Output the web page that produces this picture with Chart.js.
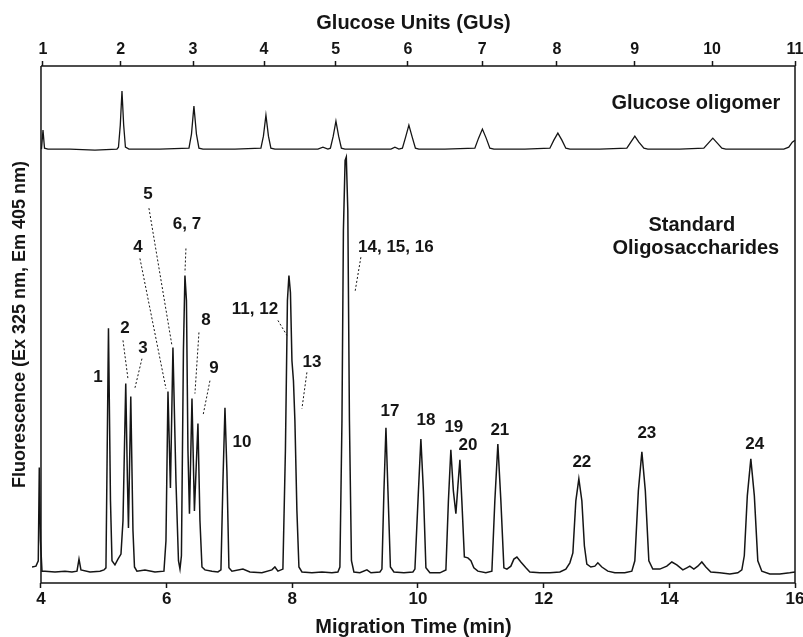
<!DOCTYPE html>
<html><head><meta charset="utf-8">
<script src="https://cdn.jsdelivr.net/npm/chart.js@4/dist/chart.umd.min.js"></script>
<style>html,body{margin:0;padding:0;background:#fff}#wrap{width:803px;height:637px}</style>
</head><body><div id="wrap"><canvas id="c" width="803" height="637"></canvas></div>
<script>
// ---- data ----
const timeTicks = [4, 6, 8, 10, 12, 14, 16];
const guLabels = ['1','2','3','4','5','6','7','8','9','10','11'];
const guTimes  = [4.03, 5.27, 6.42, 7.55, 8.69, 9.84, 11.02, 12.21, 13.45, 14.68, 16.0];

// Standard oligosaccharides trace: migration time (min) and fluorescence (relative units)
const oligoTime = [3.857,3.920,3.957,3.973,3.992,4.016,4.064,4.223,4.382,4.493,4.573,4.605,4.636,4.780,4.939,5.002,
 5.034,5.074,5.106,5.130,5.177,5.225,5.273,5.305,5.349,5.376,5.392,5.429,5.464,5.488,5.527,5.655,5.814,
 5.957,5.989,6.021,6.060,6.100,6.148,6.188,6.212,6.235,6.267,6.291,6.315,6.339,6.363,6.403,6.442,6.498,6.530,6.562,6.609,
 6.721,6.816,6.864,6.896,6.928,6.959,6.991,7.039,7.214,7.325,7.516,7.675,7.723,7.771,
 7.850,7.890,7.922,7.946,7.970,7.994,8.018,8.041,8.073,8.105,8.153,8.312,8.471,8.630,8.725,
 8.757,8.790,8.813,8.840,8.859,8.883,8.909,8.941,8.980,9.075,9.187,9.251,9.394,
 9.426,9.458,9.490,9.522,9.561,9.617,9.776,9.919,9.951,10.007,10.046,10.086,10.126,10.189,10.348,
 10.444,10.484,10.523,10.563,10.603,10.635,10.667,10.698,10.738,10.794,10.842,10.889,10.953,11.080,
 11.176,11.223,11.271,11.319,11.367,11.415,11.478,11.526,11.574,11.637,11.717,11.780,11.940,12.099,12.258,
 12.353,12.417,12.465,12.512,12.560,12.608,12.648,12.687,12.751,12.815,12.862,12.926,13.021,13.133,13.292,
 13.403,13.451,13.507,13.563,13.618,13.674,13.737,13.849,13.960,14.040,14.119,14.215,14.278,14.326,14.390,
 14.453,14.517,14.581,14.660,14.803,14.963,15.090,15.154,15.193,15.241,15.297,15.353,15.408,15.472,
 15.599,15.758,15.917,16.0];
const oligoSignal = [1.2,1.4,2.7,25.1,7.5,0.2,0.2,0,0.2,0,0.2,3.1,0.5,0,0.2,0.5,
 1.0,58.6,17.1,2.7,1.7,3.1,4.3,12.3,45.3,21.9,10.6,42.2,9.9,1.2,0.2,0.5,0,
 0.2,7.5,43.4,20.2,54.0,21.9,2.7,0.7,3.9,53.3,71.3,65.3,29.2,14.0,41.7,14.7,35.7,12.3,1.2,0.5,
 0.2,0,0.5,21.9,39.5,24.3,1.0,0.2,0.7,0,-0.2,0.5,1.2,0.2,
 0.7,29.2,65.3,71.3,67.2,50.8,46.0,36.4,14.7,1.2,0,-0.2,0,-0.2,0,
 1.2,36.4,82.2,99.0,99.8,87.0,36.4,2.7,0,-0.2,0.5,-0.2,0,
 0.7,19.5,34.7,19.5,1.2,0,-0.2,0,0.7,19.5,32.0,19.5,1.0,-0.2,-0.2,
 0.5,17.1,29.4,19.5,14.0,20.7,27.0,17.1,3.6,3.4,2.7,1.0,0.2,-0.2,
 0.2,17.1,30.8,17.1,1.0,0.7,1.4,3.1,3.6,2.4,1.0,0,-0.2,-0.2,0,
 0.7,2.2,4.6,17.1,22.4,17.1,6.3,1.9,1.2,1.4,2.2,1.2,0.2,-0.2,-0.2,
 0.2,2.7,19.5,28.9,19.5,2.7,0.7,0.7,1.4,2.4,1.7,0.5,1.0,1.4,0.7,
 1.4,2.4,1.2,0,-0.2,-0.5,-0.2,0.5,3.9,18.3,27.2,18.3,2.7,0.2,
 -0.5,-0.5,-0.2,0];

// Glucose oligomer ladder trace
const ladderTime = [4.008,4.032,4.056,4.111,4.461,4.859,5.209,5.233,5.262,5.289,5.316,5.344,5.400,5.893,
 6.355,6.395,6.434,6.474,6.514,6.578,7.087,7.500,7.540,7.580,7.620,7.659,7.723,8.121,8.407,8.487,8.566,
 8.606,8.651,8.694,8.737,8.781,8.837,9.235,9.569,9.633,9.696,9.752,9.803,9.855,9.908,9.959,10.014,10.428,
 10.905,10.964,11.025,11.085,11.144,11.208,11.701,12.099,12.162,12.226,12.290,12.353,12.417,12.894,
 13.324,13.387,13.451,13.515,13.595,13.658,14.167,14.549,14.621,14.692,14.764,14.836,14.899,15.440,
 15.822,15.901,15.957,16.0,16.045];
const ladderSignal = [0,32.8,1.7,0,0,-1.7,0,3.4,41.4,100,41.4,3.4,0,0,
 1.7,25.9,74.1,25.9,1.7,0,0,1.7,22.4,58.6,22.4,1.7,0,0,0,3.4,0,
 1.7,22.4,48.3,22.4,1.7,0,0,0,3.4,0,1.7,20.7,41.4,20.7,1.7,0,0,
 1.7,19.0,34.5,19.0,1.7,0,0,1.7,15.5,27.6,15.5,1.7,0,0,
 1.7,12.1,22.4,12.1,1.7,0,0,1.7,10.3,19.0,10.3,1.7,0,0,
 0,3.4,12.1,15.5,10.3];

// Peak annotations (anchor in time / fluorescence units)
const peakNames = ['1','2','3','4','5','6, 7','8','9','10','11, 12','13','14, 15, 16','17','18','19','20','21','22','23','24'];
const peakLabelTime = [4.907,5.336,5.623,5.543,5.702,6.323,6.625,6.753,7.198,7.405,8.312,9.648,9.553,10.126,10.571,10.794,11.303,12.608,13.642,15.360];
const peakLabelSignal = [46.7,58.6,53.7,78.1,90.8,83.6,60.5,48.9,31.1,63.1,50.4,78.1,38.6,36.4,34.7,30.4,34.0,26.3,33.3,30.6];

// Dotted leader lines (pairs, separated by gaps)
const leaderTime = [5.305,5.384,null, 5.607,5.496,null, 5.575,5.989,null, 5.718,6.084,null, 6.307,6.291,null,
 6.514,6.450,null, 6.689,6.578,null, 7.771,7.914,null, 8.232,8.153,null, 9.091,8.996];
const leaderSignal = [55.7,46.5,null, 51.3,44.3,null, 75.4,44.1,null, 87.5,54.5,null, 77.8,72.0,null,
 57.6,42.9,null, 46.0,37.6,null, 60.5,56.9,null, 48.0,39.3,null, 75.7,67.2];

const traceNames = ['Glucose oligomer', 'Standard', 'Oligosaccharides'];

// ---- chart ----
const FONT = "'Liberation Sans', Arial, Helvetica, sans-serif";
const INK = '#151515';
function pairs(xs, ys){ return xs.map((x,i)=>({x: x===null?NaN:x, y: ys[i]===null?NaN:ys[i]})); }

const framePlugin = {
  id: 'frame',
  beforeDatasetsDraw(chart){
    const {ctx, chartArea:a, scales:{x}} = chart;
    const x0 = x.getPixelForValue(4), x1 = x.getPixelForValue(16);
    ctx.save();
    ctx.strokeStyle = INK; ctx.lineWidth = 1.5;
    ctx.beginPath();
    ctx.moveTo(x0, a.top); ctx.lineTo(x1, a.top);
    ctx.moveTo(x0, a.bottom); ctx.lineTo(x1, a.bottom);
    ctx.moveTo(x0, a.top); ctx.lineTo(x0, a.bottom);
    ctx.moveTo(x1, a.top); ctx.lineTo(x1, a.bottom);
    ctx.stroke();
    ctx.restore();
  }
};

const labelPlugin = {
  id: 'peakLabels',
  afterDatasetsDraw(chart){
    const {ctx, scales:{x, yB, yT}} = chart;
    ctx.save();
    ctx.fillStyle = INK; ctx.textAlign = 'center'; ctx.textBaseline = 'middle';
    ctx.font = 'bold 17px ' + FONT;
    peakNames.forEach((n,i)=>ctx.fillText(n, x.getPixelForValue(peakLabelTime[i]), yB.getPixelForValue(peakLabelSignal[i])));
    ctx.font = 'bold 20px ' + FONT;
    ctx.fillText(traceNames[0], x.getPixelForValue(14.422), yT.getPixelForValue(79.3));
    ctx.fillText(traceNames[1], x.getPixelForValue(14.358), yB.getPixelForValue(83.4));
    ctx.fillText(traceNames[2], x.getPixelForValue(14.422), yB.getPixelForValue(77.8));
    ctx.restore();
  }
};

const noSidePad = s => { s.paddingRight = 0; s.paddingLeft = 0; };
const tickFont = {family: FONT, size: 17, weight: 'bold', lineHeight: 1};
new Chart(document.getElementById('c'), {
  type: 'line',
  data: {
    datasets: [
      {label: 'Standard Oligosaccharides', data: pairs(oligoTime, oligoSignal), xAxisID: 'x', yAxisID: 'yB',
       borderColor: INK, borderWidth: 1.5, pointRadius: 0, tension: 0, fill: false},
      {label: 'Glucose oligomer', data: pairs(ladderTime, ladderSignal), xAxisID: 'x', yAxisID: 'yT',
       borderColor: INK, borderWidth: 1.3, pointRadius: 0, tension: 0, fill: false, clip: false},
      {label: 'leaders', data: pairs(leaderTime, leaderSignal), xAxisID: 'x', yAxisID: 'yB',
       borderColor: INK, borderWidth: 1, borderDash: [2, 2], pointRadius: 0, tension: 0, fill: false, spanGaps: false}
    ]
  },
  options: {
    responsive: false, animation: false, devicePixelRatio: 1,
    layout: {padding: {left: 0, right: 8, top: 0, bottom: 0}},
    plugins: {legend: {display: false}, tooltip: {enabled: false}},
    scales: {
      x: {
        type: 'linear', position: 'bottom', min: 3.857, max: 16,
        afterBuildTicks: s => { s.ticks = timeTicks.map(v => ({value: v})); },
        afterFit: noSidePad,
        ticks: {autoSkip: false, maxRotation: 0, padding: 3, color: INK, font: tickFont, callback: v => String(v)},
        grid: {display: true, drawOnChartArea: false, drawTicks: true, tickLength: 5, tickWidth: 1.5, tickColor: INK},
        border: {display: false},
        title: {display: true, text: 'Migration Time (min)', color: INK,
                font: {family: FONT, size: 20, weight: 'bold', lineHeight: 1}, padding: {top: 6, bottom: 0}}
      },
      xTop: {
        type: 'linear', position: 'top', min: 3.857, max: 16,
        afterBuildTicks: s => { s.ticks = guTimes.map(v => ({value: v})); },
        afterFit: noSidePad,
        ticks: {autoSkip: false, maxRotation: 0, padding: 3, color: INK,
                font: {family: FONT, size: 16, weight: 'bold', lineHeight: 1}, callback: (v, i) => guLabels[i]},
        grid: {display: true, drawOnChartArea: false, drawTicks: true, tickLength: 5, tickWidth: 1.5, tickColor: INK},
        border: {display: false},
        title: {display: true, text: 'Glucose Units (GUs)', color: INK,
                font: {family: FONT, size: 20, weight: 'bold', lineHeight: 1}, padding: {top: 13, bottom: 6}}
      },
      yB: {
        type: 'linear', position: 'left', min: -2.65, max: 121.69,
        ticks: {display: false}, grid: {display: false, drawTicks: false}, border: {display: false},
        title: {display: true, text: 'Fluorescence (Ex 325 nm, Em 405 nm)', color: INK,
                font: {family: FONT, size: 18, weight: 'bold', lineHeight: 1}, padding: {top: 11, bottom: 3}}
      },
      yT: {type: 'linear', display: false, min: -746.5, max: 143.1}
    }
  },
  plugins: [framePlugin, labelPlugin]
});
</script>
</body></html>
